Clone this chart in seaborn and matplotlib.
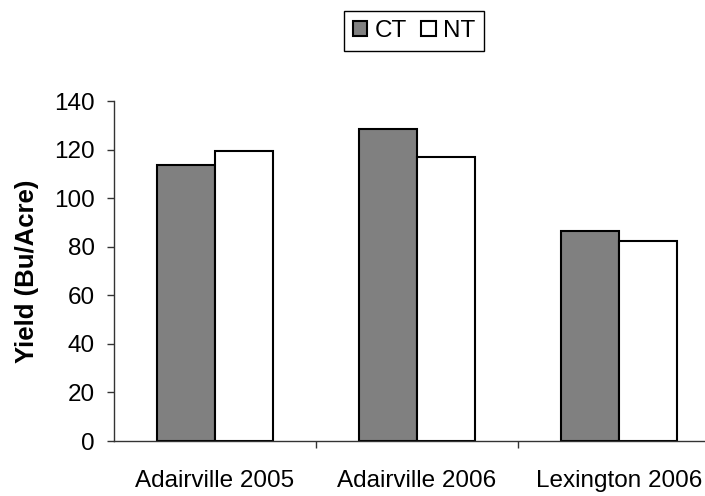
import matplotlib
matplotlib.use("Agg")
import matplotlib.pyplot as plt
import pandas as pd
import seaborn as sns

# values
sites = ["Adairville 2005", "Adairville 2006", "Lexington 2006"]
ct_yield = [113.6, 128.5, 86.5]
nt_yield = [119.4, 116.9, 82.4]
treatments = ["CT", "NT"]

df = pd.DataFrame({
    "Site": sites * 2,
    "Treatment": ["CT"] * len(sites) + ["NT"] * len(sites),
    "Yield": ct_yield + nt_yield,
})

sns.set_theme(style="white")
plt.rcParams["font.family"] = ["Liberation Sans", "DejaVu Sans"]
plt.rcParams["text.color"] = "black"
plt.rcParams["axes.labelcolor"] = "black"
plt.rcParams["xtick.color"] = "black"
plt.rcParams["ytick.color"] = "black"

fig = plt.figure(figsize=(7.05, 4.96), dpi=100)
# axes runs past the right edge like the original
ax = fig.add_axes([114 / 705, 1 - 441 / 496, 606 / 705, 340 / 496])

sns.barplot(data=df, x="Site", y="Yield", hue="Treatment", order=sites,
            hue_order=treatments, palette={"CT": "#808080", "NT": "white"},
            width=0.5714, edgecolor="black", linewidth=1.5, saturation=1,
            ax=ax)

ax.set_xlim(-0.5, 2.5)
ax.set_ylim(0, 140)
ax.set_yticks(range(0, 141, 20))
ax.set_xlabel("")
ax.set_ylabel("Yield (Bu/Acre)", fontsize=18.5, fontweight="bold", labelpad=11)

for side in ["top", "right"]:
    ax.spines[side].set_visible(False)
for side in ["left", "bottom"]:
    ax.spines[side].set_color("#333333")
    ax.spines[side].set_linewidth(1.0)

ax.tick_params(axis="y", left=True, length=5, width=1, color="#333333",
               labelsize=17.5, pad=9)
ax.tick_params(axis="x", which="major", bottom=True, length=0,
               labelsize=17.5, pad=21)
ax.set_xticks([0.5, 1.5, 2.5], minor=True)
ax.tick_params(axis="x", which="minor", bottom=True, length=5, width=1,
               color="#333333")

handles, labels = ax.get_legend_handles_labels()
ax.get_legend().remove()
fig.legend(handles, labels, loc="center", bbox_to_anchor=(414 / 705, 1 - 31 / 496),
           ncol=2, frameon=True, fancybox=False, edgecolor="black",
           fontsize=17.5, handlelength=0.6, handleheight=0.6,
           handletextpad=0.3, columnspacing=0.6, borderpad=0.35,
           framealpha=1)
fig.legends[0].get_frame().set_linewidth(1.0)

fig.savefig("out.png", dpi=100)
